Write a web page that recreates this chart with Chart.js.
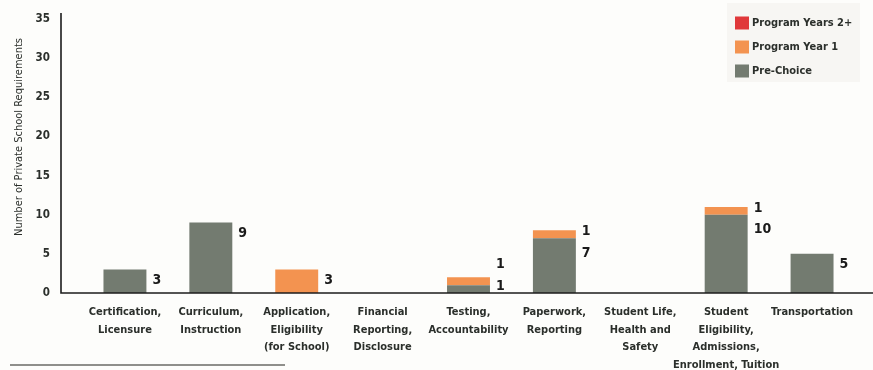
<!DOCTYPE html>
<html>
<head>
<meta charset="utf-8">
<script src="https://cdn.jsdelivr.net/npm/chart.js@4/dist/chart.umd.min.js"></script>
<style>
  html, body { margin: 0; padding: 0; background: #fdfdfb; }
  #wrap { width: 873px; height: 370px; position: relative; }
</style>
</head>
<body>
<div id="wrap"><canvas id="reqChart" width="873" height="370"></canvas></div>
<script>
// Requirement categories (multi-line tick labels)
var categories = [
  ["Certification,", "Licensure"],
  ["Curriculum,", "Instruction"],
  ["Application,", "Eligibility", "(for School)"],
  ["Financial", "Reporting,", "Disclosure"],
  ["Testing,", "Accountability"],
  ["Paperwork,", "Reporting"],
  ["Student Life,", "Health and", "Safety"],
  ["Student", "Eligibility,", "Admissions,", "Enrollment, Tuition"],
  ["Transportation"]
];
var preChoice = [3, 9, 0, 0, 1, 7, 0, 10, 5];
var programYear1 = [0, 0, 3, 0, 1, 1, 0, 1, 0];
var programYears2 = [0, 0, 0, 0, 0, 0, 0, 0, 0];
var yTicks = [0, 5, 10, 15, 20, 25, 30, 35];

var FONT = "'Liberation Sans Narrow', 'DejaVu Sans Condensed', Arial, sans-serif";
var INK = "#2b2f2b";

// axis lines, value labels, legend box, y title and footnote rule
var decorations = {
  id: "decorations",
  afterDatasetsDraw: function (chart) {
    var ctx = chart.ctx;
    var area = chart.chartArea;
    var axisX = 61;

    ctx.save();
    ctx.strokeStyle = "#1c1c1c";
    ctx.lineWidth = 1.6;
    ctx.beginPath();
    ctx.moveTo(axisX, 13);
    ctx.lineTo(axisX, area.bottom);
    ctx.lineTo(873, area.bottom);
    ctx.stroke();

    // value labels to the right of each bar
    ctx.font = "bold 14px " + FONT;
    ctx.fillStyle = "#1a1a1a";
    ctx.textBaseline = "middle";
    ctx.textAlign = "left";
    var ds = chart.data.datasets;
    for (var i = 0; i < categories.length; i++) {
      var labels = [];
      var meta0 = chart.getDatasetMeta(0).data[i];
      var right = meta0.x + meta0.width / 2 + 6;
      for (var d = ds.length - 1; d >= 0; d--) {
        var v = ds[d].data[i];
        if (!v) continue;
        var bar = chart.getDatasetMeta(d).data[i];
        labels.push({ text: String(v), top: bar.y });
      }
      if (!labels.length) continue;
      var ys = [];
      if (labels.length === 1) {
        ys.push(labels[0].top + 11);
      } else {
        ys.push(labels[0].top + 1);
        for (var k = 1; k < labels.length; k++) {
          ys.push(Math.max(labels[k].top + 15, ys[k - 1] + 21));
        }
        // keep the lowest label above the baseline
        var over = ys[ys.length - 1] - (area.bottom - 7);
        if (over > 0) for (var m = 0; m < ys.length; m++) ys[m] -= over;
      }
      for (var n = 0; n < labels.length; n++) ctx.fillText(labels[n].text, right, ys[n]);
    }

    // legend box, top series first
    var bx = 727, by = 3;
    ctx.fillStyle = "#f7f6f3";
    ctx.fillRect(bx, by, 133, 79);
    ctx.font = "bold 11px " + FONT;
    ctx.textBaseline = "middle";
    for (var r = 0; r < ds.length; r++) {
      var item = ds[ds.length - 1 - r];
      var cy = 23 + r * 24;
      ctx.fillStyle = item.backgroundColor;
      ctx.fillRect(735, cy - 6.5, 14, 13);
      ctx.fillStyle = INK;
      ctx.fillText(item.label, 752, cy);
    }

    // y axis title
    ctx.save();
    ctx.translate(19, 137);
    ctx.rotate(-Math.PI / 2);
    ctx.textAlign = "center";
    ctx.font = "11px " + FONT;
    ctx.fillStyle = INK;
    ctx.fillText("Number of Private School Requirements", 0, 0);
    ctx.restore();

    // footnote rule
    ctx.strokeStyle = "#6a6a66";
    ctx.lineWidth = 1.4;
    ctx.beginPath();
    ctx.moveTo(10, 365);
    ctx.lineTo(285, 365);
    ctx.stroke();
    ctx.restore();
  }
};

new Chart("reqChart", {
  type: "bar",
  data: {
    labels: categories,
    datasets: [
      { label: "Pre-Choice", data: preChoice, backgroundColor: "#737b70" },
      { label: "Program Year 1", data: programYear1, backgroundColor: "#f39350" },
      { label: "Program Years 2+", data: programYears2, backgroundColor: "#e0383a" }
    ]
  },
  options: {
    responsive: false,
    animation: false,
    layout: { padding: { left: 0, right: 18, top: 19, bottom: 0 } },
    datasets: { bar: { barPercentage: 0.5, categoryPercentage: 1 } },
    plugins: {
      legend: { display: false },
      tooltip: { enabled: false }
    },
    scales: {
      x: {
        stacked: true,
        afterFit: function (axis) { axis.height = 77; },
        grid: { display: false, drawTicks: false },
        border: { display: false },
        ticks: {
          padding: 10,
          maxRotation: 0,
          autoSkip: false,
          color: INK,
          font: { family: FONT, size: 11, weight: "bold", lineHeight: 1.62 }
        }
      },
      y: {
        stacked: true,
        min: 0,
        max: 35,
        afterBuildTicks: function (axis) {
          axis.ticks = yTicks.map(function (v) { return { value: v }; });
        },
        afterFit: function (axis) {
          // wide gap between labels and bars, without pushing the plot down
          axis.width = 82;
          axis.paddingTop = 7;
          axis.paddingBottom = 7;
        },
        grid: { display: false, drawTicks: false },
        border: { display: false },
        ticks: {
          padding: 32,
          color: INK,
          font: { family: FONT, size: 11.5, weight: "bold" }
        }
      }
    }
  },
  plugins: [decorations]
});
</script>
</body>
</html>
